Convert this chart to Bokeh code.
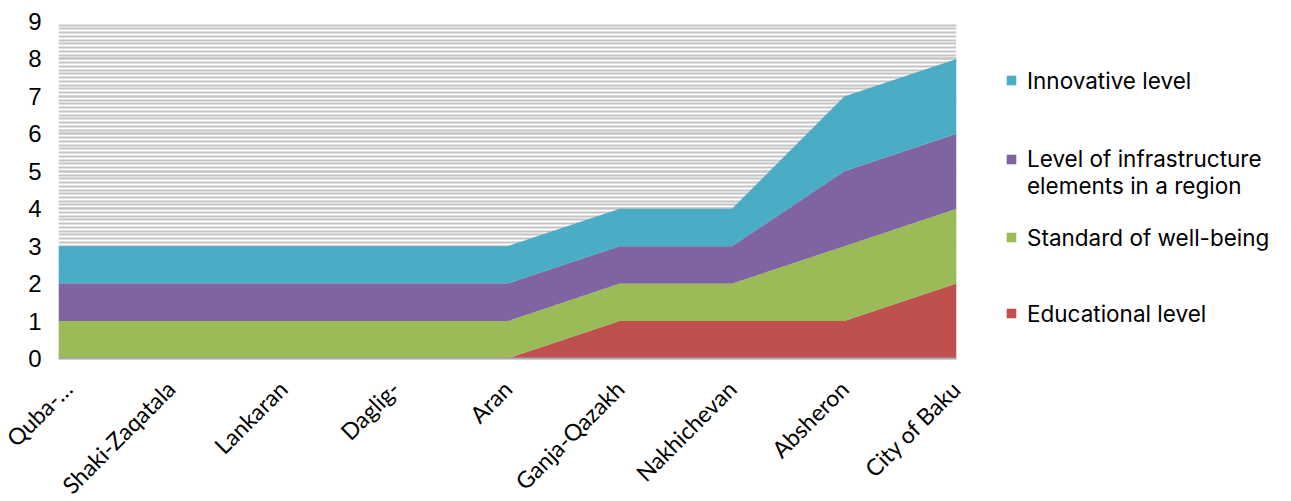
from math import pi
from bokeh.plotting import figure
from bokeh.models import (ColumnDataSource, Legend, LegendItem, SingleIntervalTicker,
                          FixedTicker, Range1d)
from bokeh.embed import file_html
from bokeh.resources import INLINE

regions = ["Quba-…", "Shaki-Zaqatala", "Lankaran", "Daglig-", "Aran",
           "Ganja-Qazakh", "Nakhichevan", "Absheron", "City of Baku"]
educational = [0, 0, 0, 0, 0, 1, 1, 1, 2]
well_being = [1, 1, 1, 1, 1, 1, 1, 2, 2]
infrastructure = [1, 1, 1, 1, 1, 1, 1, 2, 2]
innovative = [1, 1, 1, 1, 1, 1, 1, 2, 2]

series_names = ["Educational level", "Standard of well-being",
                "\nLevel of infrastructure\nelements in a region", "Innovative level"]
colors = ["#C0504D", "#9BBB59", "#8064A2", "#4BACC6"]

idx = list(range(len(regions)))
source = ColumnDataSource(dict(x=idx, edu=educational, well=well_being,
                               infra=infrastructure, innov=innovative))

p = figure(frame_width=898, frame_height=337, output_backend="svg", toolbar_location=None,
           x_range=Range1d(0, len(regions) - 1), y_range=Range1d(0, 9),
           min_border_left=58, min_border_right=0, min_border_top=21,
           min_border_bottom=143)
p.outline_line_color = None
p.background_fill_color = "white"

renderers = p.varea_stack(stackers=["edu", "well", "infra", "innov"], x="x",
                          color=colors, source=source)

# grid pattern
p.xgrid.grid_line_color = None
p.ygrid.grid_line_color = "#c4c4c4"
p.ygrid.grid_line_width = 2
p.ygrid.minor_grid_line_color = "#c4c4c4"
p.ygrid.minor_grid_line_width = 2
p.yaxis.ticker = SingleIntervalTicker(interval=1, num_minor_ticks=10)
p.ygrid.ticker = SingleIntervalTicker(interval=1, num_minor_ticks=10)

# y axis
p.yaxis.axis_line_color = None
p.yaxis.major_tick_line_color = None
p.yaxis.minor_tick_line_color = None
p.yaxis.major_tick_out = 0
p.yaxis.major_tick_in = 0
p.yaxis.major_label_standoff = 13
p.yaxis.major_label_text_font = "Liberation Sans"
p.yaxis.major_label_text_font_size = "24px"
p.yaxis.major_label_text_color = "black"

# x axis
p.xaxis.ticker = FixedTicker(ticks=idx)
p.xaxis.major_label_overrides = {i: r for i, r in enumerate(regions)}
p.xaxis.major_label_orientation = pi / 4
p.xaxis.axis_line_color = "#a6a6a6"
p.xaxis.axis_line_width = 2
p.xaxis.major_tick_line_color = None
p.xaxis.minor_tick_line_color = None
p.xaxis.major_tick_out = 0
p.xaxis.major_tick_in = 0
p.xaxis.major_label_standoff = 26
p.xaxis.major_label_text_font = "Lato"
p.xaxis.major_label_text_font_size = "23px"
p.xaxis.major_label_text_color = "black"

items = [LegendItem(label=series_names[i], renderers=[renderers[i]]) for i in [3, 2, 1, 0]]
legend = Legend(items=items, location=(49, 7))
legend.border_line_color = None
legend.background_fill_alpha = 0
legend.margin = 0
legend.padding = 0
legend.glyph_width = 12
legend.glyph_height = 12
legend.label_height = 76
legend.label_standoff = 10
legend.spacing = 0
legend.label_text_font = "Inter"
legend.label_text_font_size = "22.5px"
legend.label_text_line_height = 1.45
legend.label_text_color = "black"
p.add_layout(legend, "right")

open("out.html", "w").write(file_html(p, INLINE))
